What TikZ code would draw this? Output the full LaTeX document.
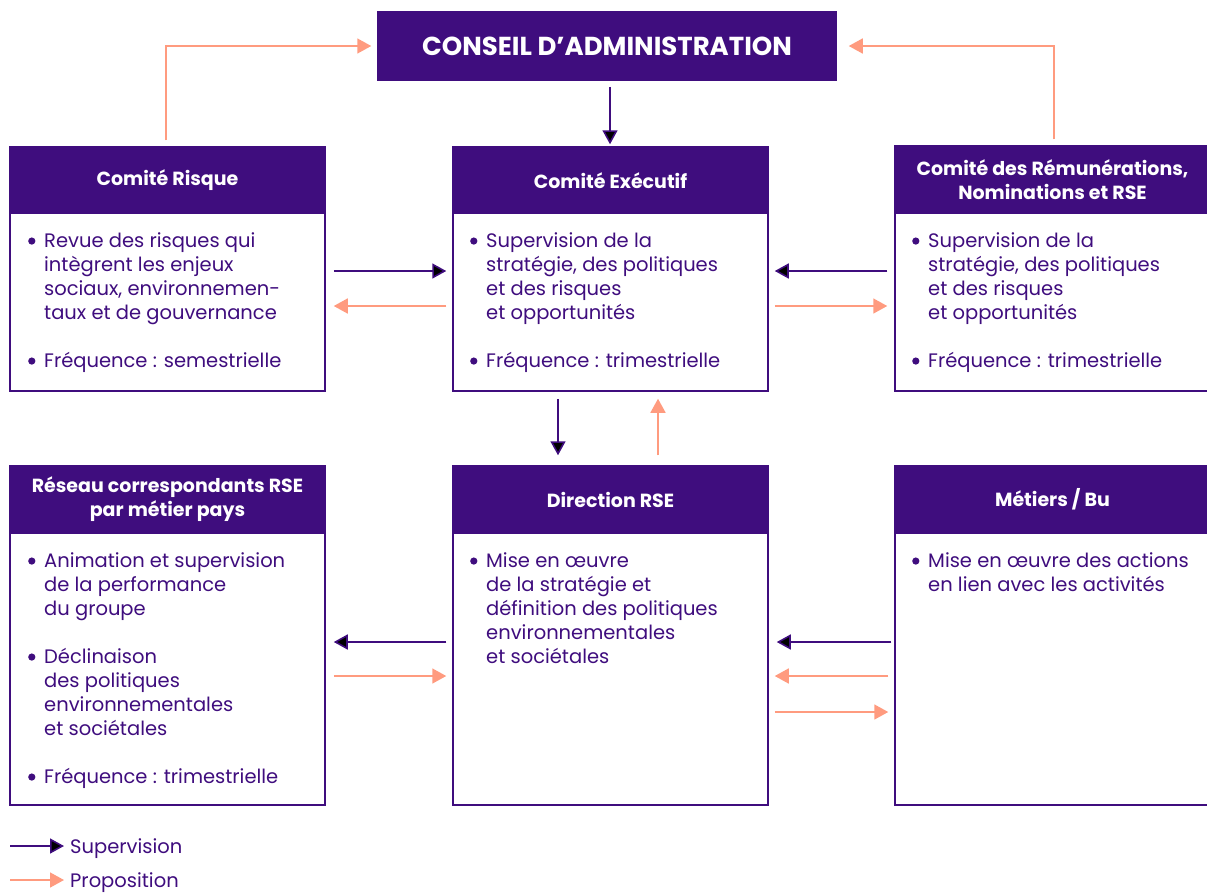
\documentclass[tikz,border=0pt]{standalone}
\usepackage{fontspec}
\setmainfont{Poppins}
\usetikzlibrary{arrows.meta, calc}

\definecolor{pourpre}{HTML}{3F0D7E}
\definecolor{saumon}{HTML}{FF9B7F}

\newcommand{\puce}{\makebox[16pt][l]{\tikz[baseline=-6pt]\fill[pourpre] (3.5pt,0pt) circle[radius=3.6pt];}}
\newcommand{\suite}{\hspace*{16pt}}

\tikzset{
    tete/.style = {fill=pourpre, draw=pourpre, line width=1.5pt, text=white,
        minimum width=315pt, minimum height=67pt, align=center,
        font=\fontsize{19}{24}\selectfont\bfseries},
    corps/.style = {fill=white, draw=pourpre, line width=1.5pt,
        minimum width=315pt},
    texte/.style = {anchor=north west, inner sep=0pt, align=left, text=pourpre,
        font=\fontsize{19.5}{24}\selectfont},
    sup/.style = {draw=pourpre, line width=1.6pt, -{Triangle[length=14pt, width=15pt]}},
    prop/.style = {draw=saumon, line width=1.6pt, -{Triangle[length=14pt, width=15pt]}}
}

\begin{document}
\begin{tikzpicture}[x=1pt, y=-1pt]
    \useasboundingbox (0,0) rectangle (1207,892);
    \clip (0,0) rectangle (1207,892);

    % conseil
    \node[tete, minimum width=458pt, minimum height=68pt,
        font=\fontsize{26}{30}\selectfont\bfseries] (ca) at (607,46) {CONSEIL D'ADMINISTRATION};

    % premiere rangee
    \node[tete] (risque) at (167.5,180.5) {Comité Risque};
    \node[corps, minimum height=178pt] (risqueB) at (167.5,302) {};
    \node[tete] (exec) at (610.5,180.5) {Comité Exécutif};
    \node[corps, minimum height=178pt] (execB) at (610.5,302) {};
    \node[tete] (remu) at (1052.5,179.5) {Comité des Rémunérations,\\Nominations et RSE};
    \node[corps, minimum height=178pt] (remuB) at (1052.5,302) {};

    \node[texte] (risqueT) at (28,232) {\puce Revue des risques qui\\ \suite intègrent les enjeux\\
        \suite sociaux, environnemen-\\ \suite taux et de gouvernance\\[24pt]
        \puce Fréquence : semestrielle};
    \node[texte] (execT) at (470,232) {\puce Supervision de la\\ \suite stratégie, des politiques\\
        \suite et des risques\\ \suite et opportunités\\[24pt]
        \puce Fréquence : trimestrielle};
    \node[texte] (remuT) at (912,232) {\puce Supervision de la\\ \suite stratégie, des politiques\\
        \suite et des risques\\ \suite et opportunités\\[24pt]
        \puce Fréquence : trimestrielle};

    % deuxieme rangee
    \node[tete] (reseau) at (167.5,499.5) {Réseau correspondants RSE\\par métier pays};
    \node[corps, minimum height=272pt] (reseauB) at (167.5,669) {};
    \node[tete] (direction) at (610.5,499.5) {Direction RSE};
    \node[corps, minimum height=272pt] (directionB) at (610.5,669) {};
    \node[tete] (metiers) at (1052.5,499.5) {Métiers / Bu};
    \node[corps, minimum height=272pt] (metiersB) at (1052.5,669) {};

    \node[texte] (reseauT) at (28,552) {\puce Animation et supervision\\ \suite de la performance\\
        \suite du groupe\\[24pt]
        \puce Déclinaison\\ \suite des politiques\\ \suite environnementales\\ \suite et sociétales\\[24pt]
        \puce Fréquence : trimestrielle};
    \node[texte] (directionT) at (470,552) {\puce Mise en œuvre\\ \suite de la stratégie et\\
        \suite définition des politiques\\ \suite environnementales\\ \suite et sociétales};
    \node[texte] (metiersT) at (912,552) {\puce Mise en œuvre des actions\\ \suite en lien avec les activités};

    % liens vers le conseil
    \draw[sup] ($(ca.south)+(3,6)$) -- ($(exec.north)+(-0.5,-2)$);
    \draw[prop] ($(risque.north)+(-1.5,-6)$) |- ($(ca.west)+(-6,0)$);
    \draw[prop] ($(remu.north)+(1.5,-6)$) |- ($(ca.east)+(12,0)$);

    % premiere rangee
    \draw[sup] ($(risqueB.east)+(8,-31)$) -- ($(execB.west)+(-6,-31)$);
    \draw[prop] ($(execB.west)+(-6,4)$) -- ($(risqueB.east)+(8,4)$);
    \draw[sup] ($(remuB.west)+(-7,-31)$) -- ($(execB.east)+(6,-31)$);
    \draw[prop] ($(execB.east)+(6,4)$) -- ($(remuB.west)+(-7,4)$);

    % entre les rangees
    \draw[sup] ($(execB.south)+(-52.5,7)$) -- ($(direction.north)+(-52.5,-10)$);
    \draw[prop] ($(direction.north)+(47.5,-10)$) -- ($(execB.south)+(47.5,7)$);

    % deuxieme rangee
    \draw[sup] ($(directionB.west)+(-6,-27)$) -- ($(reseauB.east)+(8,-27)$);
    \draw[prop] ($(reseauB.east)+(8,7)$) -- ($(directionB.west)+(-6,7)$);
    \draw[sup] ($(metiersB.west)+(-3,-27)$) -- ($(directionB.east)+(8,-27)$);
    \draw[prop] ($(metiersB.west)+(-6,7)$) -- ($(directionB.east)+(6,7)$);
    \draw[prop] ($(directionB.east)+(6,43)$) -- ($(metiersB.west)+(-6,43)$);

    % legende
    \node[texte, anchor=west] (lsup) at (70,848.5) {Supervision};
    \node[texte, anchor=west] (lprop) at (70,882.5) {Proposition};
    \coordinate (lsupA) at (10,846);
    \coordinate (lpropA) at (10,880);
    \draw[sup] (lsupA) -- ($(lsup.west)+(-6,-2.5)$);
    \draw[prop] (lpropA) -- ($(lprop.west)+(-6,-2.5)$);
\end{tikzpicture}
\end{document}
